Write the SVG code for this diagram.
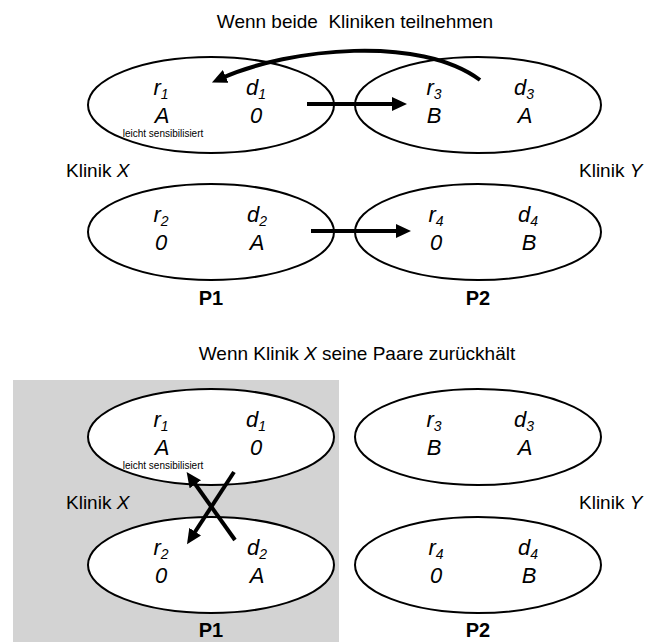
<svg xmlns="http://www.w3.org/2000/svg" width="660" height="642" viewBox="0 0 660 642">
<defs>
<marker id="ah" markerUnits="userSpaceOnUse" markerWidth="16" markerHeight="14" refX="4" refY="7" orient="auto">
<path d="M0,0 L15,7 L0,14 z" fill="#000"/>
</marker>
<style>
.ell{fill:#fff;stroke:#000;stroke-width:2}
.t{font-family:"Liberation Sans",Arial,sans-serif;fill:#000}
.ttl{font-size:19px;text-anchor:middle}
.kl{font-size:19px}
.lab{font-size:22px;font-style:italic;text-anchor:middle}
.sub{font-size:14px}
.sm{font-size:10px;text-anchor:middle}
.p{font-size:20px;font-weight:bold;text-anchor:middle}
.arr{fill:none;stroke:#000;stroke-width:4;marker-end:url(#ah)}
</style>
</defs>
<rect width="660" height="642" fill="#fff"/>
<rect id="shade" x="13" y="380" width="326" height="262" fill="#d3d3d3"/>

<text class="t ttl" x="355" y="28" xml:space="preserve">Wenn beide  Kliniken teilnehmen</text>
<text class="t kl" x="66" y="177">Klinik <tspan font-style="italic">X</tspan></text>
<text class="t kl" x="579" y="177">Klinik <tspan font-style="italic">Y</tspan></text>

<g id="top-pair1">
<ellipse class="ell" cx="211" cy="105" rx="123" ry="48"/>
<text class="t lab" x="161" y="95">r<tspan class="sub" dy="4">1</tspan></text>
<text class="t lab" x="256" y="95">d<tspan class="sub" dy="4">1</tspan></text>
<text class="t lab" x="162" y="123">A</text>
<text class="t lab" x="256" y="123">0</text>
<text class="t sm" x="163" y="137">leicht sensibilisiert</text>
</g>
<g id="top-pair3">
<ellipse class="ell" cx="478" cy="105" rx="123" ry="48"/>
<text class="t lab" x="434" y="95">r<tspan class="sub" dy="4">3</tspan></text>
<text class="t lab" x="524" y="95">d<tspan class="sub" dy="4">3</tspan></text>
<text class="t lab" x="434" y="123">B</text>
<text class="t lab" x="525" y="123">A</text>
</g>
<g id="top-pair2">
<ellipse class="ell" cx="211" cy="232" rx="123" ry="48"/>
<text class="t lab" x="161" y="222">r<tspan class="sub" dy="4">2</tspan></text>
<text class="t lab" x="257" y="222">d<tspan class="sub" dy="4">2</tspan></text>
<text class="t lab" x="161" y="250">0</text>
<text class="t lab" x="257" y="250">A</text>
</g>
<g id="top-pair4">
<ellipse class="ell" cx="478" cy="232" rx="123" ry="48"/>
<text class="t lab" x="436" y="222">r<tspan class="sub" dy="4">4</tspan></text>
<text class="t lab" x="528" y="222">d<tspan class="sub" dy="4">4</tspan></text>
<text class="t lab" x="436" y="250">0</text>
<text class="t lab" x="529" y="250">B</text>
</g>
<text class="t p" x="211" y="305">P1</text>
<text class="t p" x="478" y="305">P2</text>

<g id="top-connectors">
<path class="arr" d="M480,80 C420,35 290,48 222,78"/>
<path class="arr" d="M307,104 L396,104"/>
<path class="arr" d="M311,231 L400,231"/>
</g>

<text class="t ttl" x="357" y="360">Wenn Klinik <tspan font-style="italic">X</tspan> seine Paare zurückhält</text>
<text class="t kl" x="66" y="509">Klinik <tspan font-style="italic">X</tspan></text>
<text class="t kl" x="579" y="509">Klinik <tspan font-style="italic">Y</tspan></text>

<g id="bot-pair1">
<ellipse class="ell" cx="211" cy="437" rx="123" ry="48"/>
<text class="t lab" x="161" y="427">r<tspan class="sub" dy="4">1</tspan></text>
<text class="t lab" x="256" y="427">d<tspan class="sub" dy="4">1</tspan></text>
<text class="t lab" x="162" y="455">A</text>
<text class="t lab" x="256" y="455">0</text>
<text class="t sm" x="163" y="469">leicht sensibilisiert</text>
</g>
<g id="bot-pair3">
<ellipse class="ell" cx="478" cy="437" rx="123" ry="48"/>
<text class="t lab" x="434" y="427">r<tspan class="sub" dy="4">3</tspan></text>
<text class="t lab" x="524" y="427">d<tspan class="sub" dy="4">3</tspan></text>
<text class="t lab" x="434" y="455">B</text>
<text class="t lab" x="525" y="455">A</text>
</g>
<g id="bot-pair2">
<ellipse class="ell" cx="211" cy="565" rx="123" ry="48"/>
<text class="t lab" x="161" y="555">r<tspan class="sub" dy="4">2</tspan></text>
<text class="t lab" x="257" y="555">d<tspan class="sub" dy="4">2</tspan></text>
<text class="t lab" x="161" y="583">0</text>
<text class="t lab" x="257" y="583">A</text>
</g>
<g id="bot-pair4">
<ellipse class="ell" cx="478" cy="565" rx="123" ry="48"/>
<text class="t lab" x="436" y="555">r<tspan class="sub" dy="4">4</tspan></text>
<text class="t lab" x="528" y="555">d<tspan class="sub" dy="4">4</tspan></text>
<text class="t lab" x="436" y="583">0</text>
<text class="t lab" x="529" y="583">B</text>
</g>
<text class="t p" x="211" y="637">P1</text>
<text class="t p" x="478" y="637">P2</text>

<g id="bot-connectors">
<path class="arr" d="M235,540 L193,481"/>
<path class="arr" d="M234,472 L193,535"/>
</g>
</svg>
